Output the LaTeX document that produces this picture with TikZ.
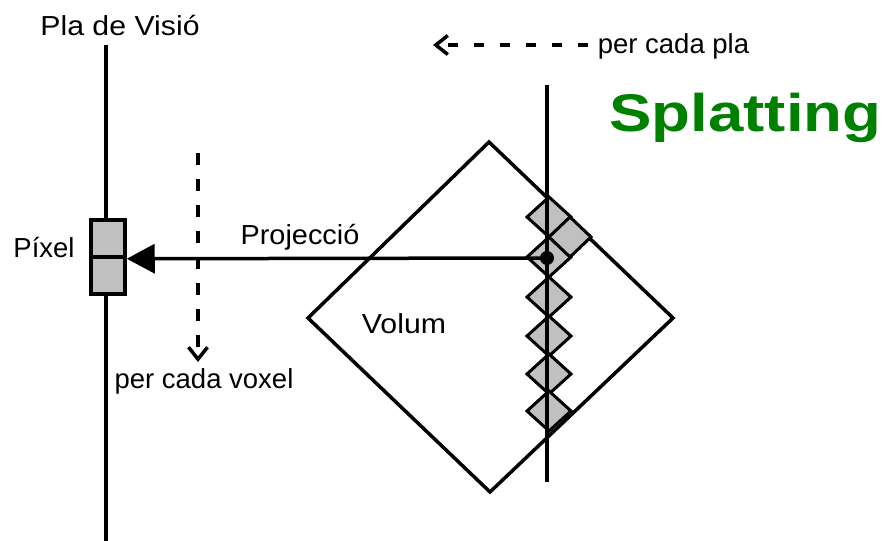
\documentclass[tikz,border=0pt]{standalone}
\usepackage{fontspec}
\setmainfont{Liberation Sans}
\usepackage{graphicx}
\usetikzlibrary{arrows.meta}
\definecolor{splat}{RGB}{0,128,0}
\definecolor{cellgray}{RGB}{192,192,192}
\begin{document}
\begin{tikzpicture}[x=1pt,y=-1pt,line join=miter,
  lbl/.style={font=\fontsize{27.5}{30}\selectfont, inner sep=0pt, anchor=base},
  thickline/.style={line width=3.5pt},
  cell/.style={draw, fill=cellgray, line width=3.5pt, minimum width=34pt, minimum height=37pt, inner sep=0pt},
  sdiam/.style={draw, fill=cellgray, line width=3pt},
  dashedarrow/.style={line width=3.5pt, dash pattern=on 12pt off 14pt, -{Straight Barb[length=12pt,width=19pt]}}]
\useasboundingbox (0,0) rectangle (887,541);
% vision plane
\coordinate (vtop) at (106,45);
\coordinate (vbot) at (106,541);
\draw[line width=4pt] (vtop) -- (vbot);
\node[lbl] (plalbl) at (120,35) {\scalebox{1.1}[1]{Pla de Visió}};
% pixel
\node[cell] (pixtop) at (108,238.5) {};
\node[cell] (pixbot) at (108,275.5) {};
\node[lbl] (pixlbl) at (44,257) {Píxel};
% large volume diamond
\coordinate (dT) at (489,142);
\coordinate (dR) at (673,318);
\coordinate (dB) at (490,492);
\coordinate (dL) at (308,318);
\draw[thickline] (dT) -- (dR) -- (dB) -- (dL) -- cycle;
\node[lbl] (volum) at (404,333) {\scalebox{1.1}[1]{Volum}};
% small voxel diamonds
\foreach \yy in {217,257,297,336,374,411}
  \draw[sdiam] (549,\yy) ++(0,-20) -- ++(22,20) -- ++(-22,20) -- ++(-22,-20) -- cycle;
\draw[sdiam] (570,237) ++(0,-20) -- ++(21,20) -- ++(-21,20) -- ++(-21,-20) -- cycle;
% slice plane
\coordinate (ptop) at (547,85);
\coordinate (pbot) at (547,482);
\draw[thickline] (ptop) -- (pbot);
% projection
\node[circle, fill, inner sep=0pt, minimum size=14pt] (dot) at (547,258) {};
\draw[thickline, -{Triangle[length=28pt,width=29pt]}] (dot.center) -- (pixtop.south east);
\node[lbl] (proj) at (300,244) {\scalebox{1.05}[1]{Projecció}};
% per cada voxel
\coordinate (vs) at (198,153);
\coordinate (ve) at (198,362);
\draw[dashedarrow] (vs) -- (ve);
\node[lbl] (voxlbl) at (204,388) {per cada voxel};
% per cada pla
\coordinate (hs) at (588,45);
\coordinate (he) at (433,45);
\draw[dashedarrow, dash pattern=on 10pt off 16pt] (hs) -- (he);
\node[lbl] (plalbl2) at (673.5,53) {per cada pla};
% title
\node[anchor=base, inner sep=0pt, text=splat, font=\fontsize{53}{56}\selectfont\bfseries] (title) at (745.5,131) {\scalebox{1.2}[1]{Splatting}};
\end{tikzpicture}
\end{document}
